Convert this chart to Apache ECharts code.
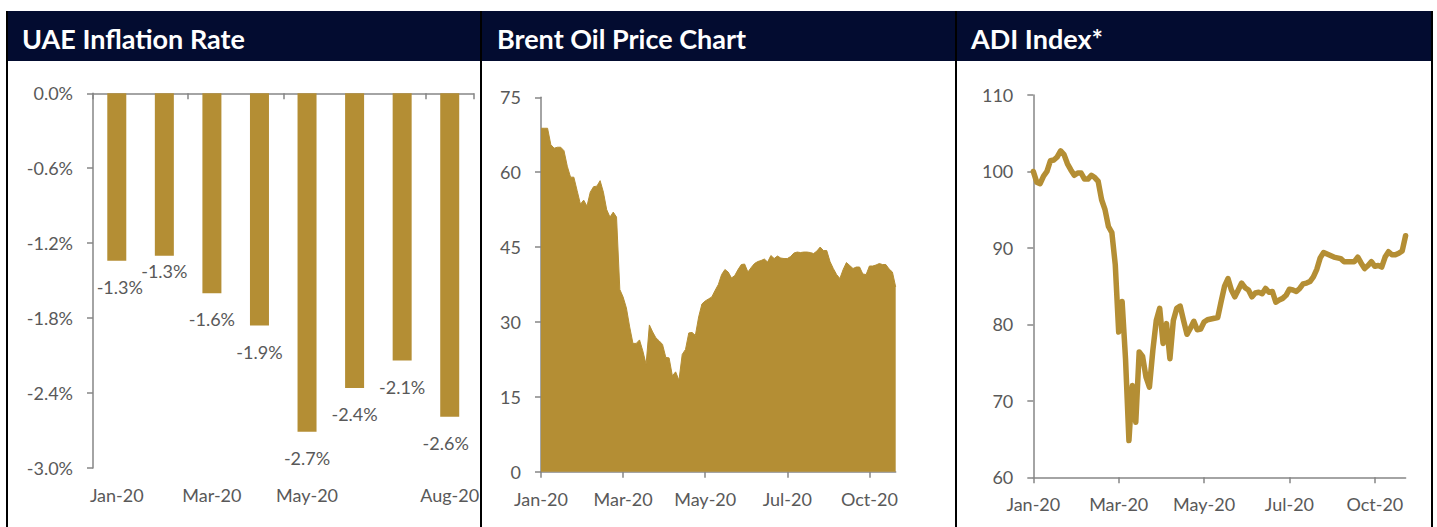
<!DOCTYPE html>
<html>
<head>
<meta charset="utf-8">
<script src="https://cdn.jsdelivr.net/npm/echarts@6/dist/echarts.min.js"></script>
<style>
html,body{margin:0;padding:0;background:#ffffff;}
#c{width:1437px;height:527px;}
</style>
</head>
<body>
<div id="c"></div>
<script>
// ---------- DATA ----------
const panelTitles = ['UAE Inflation Rate', 'Brent Oil Price Chart', 'ADI Index*'];

const inflationMonths = ['Jan-20', 'Feb-20', 'Mar-20', 'Apr-20', 'May-20', 'Jun-20', 'Jul-20', 'Aug-20'];
const inflationValues = [-1.34, -1.30, -1.60, -1.86, -2.71, -2.36, -2.14, -2.59];
const inflationTickLabels = ['Jan-20', 'Mar-20', 'May-20', 'Aug-20'];

const oilTickLabels = ['Jan-20', 'Mar-20', 'May-20', 'Jul-20', 'Oct-20'];
const oilPrices = [
  68.8, 68.8, 68.8, 65.5, 64.8, 65.0, 65.0, 64.3, 61.2, 59.0,
  59.0, 56.3, 53.6, 54.4, 53.2, 56.0, 57.1, 57.2, 58.3, 56.0,
  52.5, 51.0, 52.0, 51.0, 36.5, 35.0, 32.8, 29.0, 25.7, 25.7,
  26.4, 24.2, 21.5, 29.4, 28.0, 26.8, 26.2, 25.5, 22.9, 22.8,
  19.2, 20.0, 18.3, 23.5, 24.5, 27.8, 27.9, 27.3, 31.0, 33.6,
  34.2, 34.6, 35.0, 36.3, 37.5, 39.5, 40.5, 40.0, 38.8, 39.3,
  40.5, 41.5, 41.6, 40.0, 40.9, 41.7, 42.1, 42.3, 42.6, 42.0,
  43.3, 42.7, 43.2, 42.8, 42.7, 42.7, 43.1, 43.8, 44.0, 43.9,
  44.0, 44.0, 43.9, 43.7, 44.2, 45.0, 44.3, 44.3, 42.1, 40.7,
  39.5, 38.7, 40.5, 41.9, 41.3, 40.7, 41.0, 41.0, 39.6, 39.5,
  41.2, 41.2, 41.4, 41.7, 41.5, 41.5, 40.6, 40.0, 37.0
];

const adiTickLabels = ['Jan-20', 'Mar-20', 'May-20', 'Jul-20', 'Oct-20'];
const adiValues = [
  100.0, 98.6, 98.4, 99.4, 100.0, 101.4, 101.5, 101.9, 102.7, 102.2,
  101.0, 100.2, 99.5, 99.8, 99.8, 99.0, 99.0, 99.5, 99.2, 98.7,
  96.3, 95.0, 92.8, 92.0, 87.8, 79.0, 83.0, 75.5, 64.8, 72.0,
  67.2, 76.4, 75.8, 73.1, 71.8, 76.6, 80.5, 82.1, 77.5, 80.1,
  75.5, 80.5, 82.1, 82.4, 80.5, 78.7, 79.5, 80.4, 79.3, 79.4,
  80.3, 80.6, 80.7, 80.8, 80.9, 83.0, 85.0, 86.0, 84.5, 83.6,
  84.5, 85.4, 84.8, 84.5, 83.6, 84.1, 84.2, 84.0, 84.7, 84.2,
  84.3, 82.9, 83.2, 83.4, 83.8, 84.6, 84.5, 84.3, 84.7, 85.3,
  85.4, 85.6, 86.2, 87.2, 88.7, 89.4, 89.2, 89.0, 88.8, 88.7,
  88.6, 88.2, 88.2, 88.2, 88.2, 88.8, 88.0, 87.3, 87.7, 88.2,
  87.6, 87.7, 87.5, 88.8, 89.5, 89.1, 89.1, 89.3, 89.6, 91.6
];

// ---------- STYLE ----------
const GOLD = '#B48E34';
const NAVY = '#030C30';
const AXIS = '#868686';
const TXT = '#595959';
const FONT = 'Lato, "Liberation Sans", sans-serif';
const TICK_EVERY = 25;

const chart = echarts.init(document.getElementById('c'), null, {renderer: 'svg'});

const shownInflationIdx = inflationTickLabels.map(l => inflationMonths.indexOf(l));
const oilCats = oilPrices.map((_, i) => String(i));
const adiCats = adiValues.map((_, i) => String(i));

// label tweaks per bar (style only)
const barLabelTweaks = {1: {distance: 6}, 0: {offset: [3, 0]}, 7: {offset: [-4, 0]}};

const axisLineStyle = {lineStyle: {color: AXIS, width: 1.5}};
const labelStyle = {color: TXT, fontSize: 18, fontFamily: FONT};

const option = {
  animation: false,
  textStyle: {fontFamily: FONT},
  graphic: [
    {type: 'rect', shape: {x: 6, y: 11, width: 1427, height: 50}, style: {fill: NAVY}, z: 0},
    {type: 'rect', shape: {x: 6, y: 11, width: 2, height: 516}, style: {fill: '#000'}, z: 1},
    {type: 'rect', shape: {x: 480, y: 11, width: 2, height: 516}, style: {fill: '#000'}, z: 1},
    {type: 'rect', shape: {x: 955, y: 11, width: 2, height: 516}, style: {fill: '#000'}, z: 1},
    {type: 'rect', shape: {x: 1431, y: 11, width: 2, height: 516}, style: {fill: '#000'}, z: 1},
    {type: 'text', x: 22, y: 38, style: {text: panelTitles[0], fill: '#fff', font: 'bold 27px ' + FONT, verticalAlign: 'middle'}, z: 2},
    {type: 'text', x: 497, y: 38, style: {text: panelTitles[1], fill: '#fff', font: 'bold 27px ' + FONT, verticalAlign: 'middle'}, z: 2},
    {type: 'text', x: 971, y: 38, style: {text: panelTitles[2], fill: '#fff', font: 'bold 27px ' + FONT, verticalAlign: 'middle'}, z: 2}
  ],
  grid: [
    {left: 93, top: 93.3, width: 380.5, height: 374.7, outerBoundsMode: 'none', containLabel: false},
    {left: 541, top: 97.3, width: 354.7, height: 374.4, outerBoundsMode: 'none', containLabel: false},
    {left: 1033.3, top: 95, width: 372.3, height: 382.3, outerBoundsMode: 'none', containLabel: false}
  ],
  xAxis: [
    { // inflation: labels at bottom
      type: 'category', gridIndex: 0, data: inflationMonths, position: 'bottom',
      axisLine: {show: false}, axisTick: {show: false},
      axisLabel: Object.assign({margin: 18, interval: (i) => shownInflationIdx.includes(i)}, labelStyle)
    },
    { // inflation: zero line at top with ticks
      type: 'category', gridIndex: 0, data: inflationMonths, position: 'top',
      axisLine: axisLineStyle,
      axisTick: {show: true, inside: true, length: 6, lineStyle: {color: AXIS, width: 1.5},
                 interval: (i) => shownInflationIdx.includes(i)},
      axisLabel: {show: false}
    },
    {
      type: 'category', gridIndex: 1, data: oilCats, boundaryGap: false,
      axisLine: axisLineStyle,
      axisTick: {show: true, length: 6, interval: TICK_EVERY - 1, lineStyle: {color: AXIS, width: 1.5}},
      axisLabel: Object.assign({margin: 18, interval: TICK_EVERY - 1,
        formatter: (v, i) => oilTickLabels[Math.round(Number(v) / TICK_EVERY)]}, labelStyle)
    },
    {
      type: 'category', gridIndex: 2, data: adiCats, boundaryGap: false,
      axisLine: axisLineStyle,
      axisTick: {show: true, length: 6, interval: TICK_EVERY - 1, lineStyle: {color: AXIS, width: 1.5}},
      axisLabel: Object.assign({margin: 18, interval: TICK_EVERY - 1,
        formatter: (v, i) => adiTickLabels[Math.round(Number(v) / TICK_EVERY)]}, labelStyle)
    }
  ],
  yAxis: [
    {
      type: 'value', gridIndex: 0, min: -3, max: 0, interval: 0.6,
      axisLine: Object.assign({show: true}, axisLineStyle),
      axisTick: {show: true, length: 6, lineStyle: {color: AXIS, width: 1.5}},
      splitLine: {show: false},
      axisLabel: Object.assign({margin: 20, formatter: v => (Math.abs(v) < 1e-9 ? 0 : v).toFixed(1) + '%'}, labelStyle)
    },
    {
      type: 'value', gridIndex: 1, min: 0, max: 75, interval: 15,
      axisLine: Object.assign({show: true}, axisLineStyle),
      axisTick: {show: true, length: 6, lineStyle: {color: AXIS, width: 1.5}},
      splitLine: {show: false},
      axisLabel: Object.assign({margin: 20}, labelStyle)
    },
    {
      type: 'value', gridIndex: 2, min: 60, max: 110, interval: 10,
      axisLine: Object.assign({show: true}, axisLineStyle),
      axisTick: {show: true, length: 6, lineStyle: {color: AXIS, width: 1.5}},
      splitLine: {show: false},
      axisLabel: Object.assign({margin: 20}, labelStyle)
    }
  ],
  series: [
    {
      type: 'bar', xAxisIndex: 0, yAxisIndex: 0, barWidth: 19,
      itemStyle: {color: GOLD},
      label: Object.assign({show: true, position: 'bottom', distance: 17,
        formatter: p => p.value.toFixed(1) + '%'}, labelStyle),
      data: inflationValues.map((v, i) => Object.assign({value: v},
        barLabelTweaks[i] ? {label: barLabelTweaks[i]} : {}))
    },
    {
      type: 'line', xAxisIndex: 2, yAxisIndex: 1, symbol: 'none',
      lineStyle: {color: GOLD, width: 1},
      areaStyle: {color: GOLD, opacity: 1},
      data: oilPrices
    },
    {
      type: 'line', xAxisIndex: 3, yAxisIndex: 2, symbol: 'none',
      lineStyle: {color: GOLD, width: 5.5, join: 'round', cap: 'round'},
      data: adiValues
    }
  ]
};
chart.setOption(option);
</script>
</body>
</html>
